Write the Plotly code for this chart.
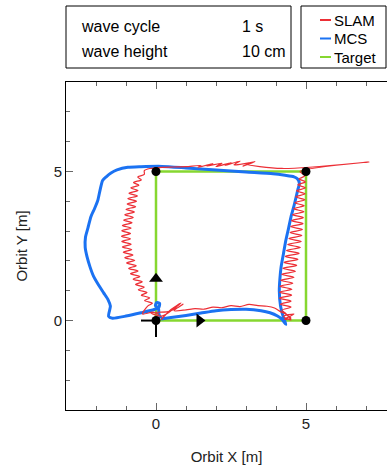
import plotly.graph_objects as go

# ---- data ----
target_x = [0, 5, 5, 0, 0]
target_y = [0, 0, 5, 5, 0]
corner_x = [0, 5, 5, 0]
corner_y = [0, 0, 5, 5]
arrow_r = ([1.45], [0])
arrow_u = ([0], [1.4])
cross_x = [-0.5, 0, None, 0, 0]
cross_y = [0, 0, None, 0, -0.55]

mcs_x = [0.17, 0.5, 1.0, 1.5, 2.0, 2.5, 3.0, 3.5, 3.8, 4.05, 4.2, 4.33, 4.25, 4.15, 4.11, 4.13,
         4.17, 4.25, 4.33, 4.42, 4.5, 4.6, 4.67, 4.73, 4.78, 4.72, 4.6, 4.3, 3.9, 3.0, 2.0, 1.0,
         0.2, -0.5, -0.94, -1.3, -1.5, -1.65, -1.78, -1.87, -1.94, -2.05, -2.17, -2.27, -2.35,
         -2.36, -2.3, -2.2, -2.08, -1.92, -1.74, -1.6, -1.52, -1.58, -1.45, -1.0, -0.5, -0.06,
         0.1, 0.12, 0.02, -0.02, 0.08, 0.1, 0.17]
mcs_y = [0.05, 0.1, 0.17, 0.25, 0.33, 0.37, 0.38, 0.33, 0.26, 0.15, 0.04, -0.13, 0.1, 0.5, 1.0, 1.4,
         1.8, 2.25, 2.7, 3.1, 3.48, 3.85, 4.14, 4.4, 4.59, 4.75, 4.82, 4.87, 4.92, 4.98, 5.05, 5.12,
         5.17, 5.16, 5.14, 5.05, 4.95, 4.83, 4.7, 4.35, 4.03, 3.75, 3.48, 3.1, 2.8,
         2.45, 2.14, 1.8, 1.48, 1.2, 0.92, 0.7, 0.48, 0.14, 0.08, 0.15, 0.26, 0.37,
         0.45, 0.58, 0.6, 0.5, 0.42, 0.2, 0.08]

slam_bottom_x = [0.17, 0.5, 0.83, 0.2, -0.17, 0.4, 0.7, 0.9, 0.6, 1.0, 1.3, 1.6, 1.9, 2.2, 2.5,
                 2.8, 3.1, 3.4, 3.7, 3.95, 4.15, 4.35, 4.5, 4.28, 4.6, 4.25, 4.5, 4.3]
slam_bottom_y = [0.03, 0.37, 0.59, 0.15, 0.26, 0.3, 0.42, 0.55, 0.33, 0.36, 0.4, 0.38, 0.45, 0.43,
                 0.5, 0.47, 0.54, 0.5, 0.48, 0.42, 0.3, 0.2, 0.08, 0.04, 0.22, 0.14, 0.02, 0.26]
slam_right_x = [4.20, 4.50, 4.15, 4.50, 4.12, 4.52, 4.12, 4.53, 4.13, 4.56, 4.16, 4.60, 4.19,
                4.65, 4.23, 4.69, 4.27, 4.73, 4.31, 4.77, 4.35, 4.81, 4.39, 4.84, 4.43, 4.86,
                4.47, 4.88, 4.49, 4.90, 4.52, 4.91, 4.55, 4.93, 4.59, 4.94, 4.63, 4.96, 4.66,
                4.97, 4.69, 4.98, 4.73, 4.98, 4.77, 4.96]
slam_right_y = [0.35, 0.45, 0.55, 0.65, 0.75, 0.85, 0.95, 1.05, 1.15, 1.25, 1.35, 1.45, 1.55,
                1.65, 1.75, 1.85, 1.95, 2.05, 2.15, 2.25, 2.35, 2.45, 2.55, 2.65, 2.75, 2.85,
                2.95, 3.05, 3.15, 3.25, 3.35, 3.45, 3.55, 3.65, 3.75, 3.85, 3.95, 4.05, 4.15,
                4.25, 4.35, 4.45, 4.55, 4.65, 4.75, 4.85]
slam_top_x = [4.8, 7.1, 6.9, 4.2, 3.0, 3.3, 2.9, 3.2, 2.6, 2.8, 2.3, 2.5, 2.0, 2.2, 1.7, 1.9,
              1.4, 1.5, 1.0, 0.6, 0.2, -0.2, -0.39]
slam_top_y = [5.0, 5.32, 5.3, 5.1, 5.25, 5.33, 5.18, 5.3, 5.22, 5.35, 5.2, 5.3, 5.16, 5.28, 5.18,
              5.26, 5.14, 5.2, 5.16, 5.15, 5.14, 5.1, 5.03]
slam_left_x = [-0.39, -0.61, -0.49, -0.75, -0.57, -0.84, -0.60, -0.90, -0.62, -0.94, -0.65,
               -0.96, -0.68, -1.00, -0.72, -1.04, -0.76, -1.08, -0.80, -1.12, -0.83, -1.14,
               -0.85, -1.15, -0.85, -1.14, -0.83, -1.12, -0.81, -1.09, -0.77, -1.04, -0.71,
               -0.98, -0.66, -0.91, -0.60, -0.85, -0.54, -0.76, -0.46, -0.68, -0.39, -0.59,
               -0.30, -0.49, -0.21, -0.38, -0.12, -0.27, -0.45, -0.1, 0.1]
slam_left_y = [4.90, 4.81, 4.72, 4.63, 4.54, 4.45, 4.36, 4.27, 4.18, 4.09, 4.00, 3.91, 3.82,
               3.73, 3.64, 3.55, 3.46, 3.37, 3.28, 3.19, 3.10, 3.01, 2.92, 2.83, 2.74, 2.65,
               2.56, 2.47, 2.38, 2.29, 2.20, 2.11, 2.02, 1.93, 1.84, 1.75, 1.66, 1.57, 1.48,
               1.39, 1.30, 1.21, 1.12, 1.03, 0.94, 0.85, 0.76, 0.67, 0.58, 0.49, 0.22, 0.28, 0.2]

slam_x = slam_bottom_x + slam_right_x + slam_top_x + slam_left_x
slam_y = slam_bottom_y + slam_right_y + slam_top_y + slam_left_y

RED = "#ec2f36"
BLUE = "#1b72f2"
GREEN = "#86d730"

fig = go.Figure()
fig.add_trace(go.Scatter(x=target_x, y=target_y, mode="lines",
                         line=dict(color=GREEN, width=2.5), showlegend=False))
fig.add_trace(go.Scatter(x=mcs_x, y=mcs_y, mode="lines",
                         line=dict(color=BLUE, width=3, shape="spline", smoothing=0.6),
                         showlegend=False))
fig.add_trace(go.Scatter(x=slam_x, y=slam_y, mode="lines",
                         line=dict(color=RED, width=1.2, shape="spline", smoothing=0.8),
                         showlegend=False))
fig.add_trace(go.Scatter(x=cross_x, y=cross_y, mode="lines",
                         line=dict(color="black", width=2), showlegend=False))
fig.add_trace(go.Scatter(x=corner_x, y=corner_y, mode="markers",
                         marker=dict(color="black", size=9), showlegend=False))
fig.add_trace(go.Scatter(x=arrow_r[0], y=arrow_r[1], mode="markers",
                         marker=dict(color="black", size=12, symbol="triangle-right"),
                         showlegend=False))
fig.add_trace(go.Scatter(x=arrow_u[0], y=arrow_u[1], mode="markers",
                         marker=dict(color="black", size=12, symbol="triangle-up"),
                         showlegend=False))

W, H = 387, 469
L, R, T, B = 66, 0, 82, 59
pw, ph = W - L - R, H - T - B


def px(x):
    return (x - L) / pw


def py(y):
    return (H - B - y) / ph


shapes = [
    dict(type="rect", xref="paper", yref="paper", x0=px(66), x1=px(291), y0=py(68), y1=py(6),
         line=dict(color="black", width=1)),
    dict(type="rect", xref="paper", yref="paper", x0=px(301), x1=px(386), y0=py(68), y1=py(6),
         line=dict(color="black", width=1)),
]
leg = [("SLAM", RED, 20), ("MCS", BLUE, 38.5), ("Target", GREEN, 57)]
annotations = []
for name, col, yy in leg:
    shapes.append(dict(type="line", xref="paper", yref="paper", x0=px(320), x1=px(331),
                       y0=py(yy), y1=py(yy), line=dict(color=col, width=2)))
    annotations.append(dict(xref="paper", yref="paper", x=px(332), y=py(yy), text=name,
                            showarrow=False, xanchor="left", yanchor="middle",
                            font=dict(size=15, color="black")))
for txt, xx, yy in [("wave cycle", 79, 26), ("1 s", 240, 26), ("wave height", 79, 51),
                    ("10 cm", 240, 51)]:
    annotations.append(dict(xref="paper", yref="paper", x=px(xx), y=py(yy), text=txt,
                            showarrow=False, xanchor="left", yanchor="middle",
                            font=dict(size=16, color="black")))

fig.update_layout(
    width=W, height=H, margin=dict(l=L, r=R, t=T, b=B),
    paper_bgcolor="white", plot_bgcolor="white",
    font=dict(family="Liberation Sans, Arial, sans-serif", color="#222"),
    shapes=shapes, annotations=annotations,
    xaxis=dict(range=[-3, -3 + pw / 30.0], tick0=0, dtick=5, ticks="inside", ticklen=7,
               tickcolor="#666", showgrid=False, zeroline=False, showline=True,
               linecolor="black", linewidth=1, mirror="ticks",
               minor=dict(tick0=0, dtick=1, ticks="inside", ticklen=4, tickcolor="#666"),
               title=dict(text="Orbit X [m]", font=dict(size=15), standoff=20),
               tickfont=dict(size=15)),
    yaxis=dict(range=[-3, 8], tick0=0, dtick=5, ticks="inside", ticklen=7,
               tickcolor="#666", showgrid=False, zeroline=False, showline=True,
               linecolor="black", linewidth=1,
               minor=dict(tick0=0, dtick=1, ticks="inside", ticklen=4, tickcolor="#666"),
               title=dict(text="Orbit Y [m]", font=dict(size=15), standoff=22),
               tickfont=dict(size=15)),
)
fig.write_html("out.html")
